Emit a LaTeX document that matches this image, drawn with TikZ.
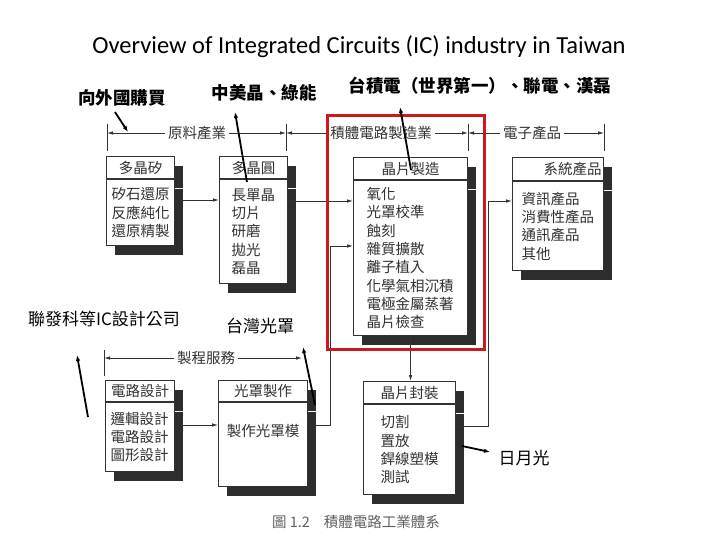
\documentclass[tikz,border=0pt]{standalone}
\usepackage{fontspec}
\setmainfont{Noto Sans CJK TC}
\newfontfamily\titlefont{Carlito}
\usepackage{xcolor}
\usepackage{tikz}
\usetikzlibrary{arrows.meta,shadows}
\definecolor{InkGray}{RGB}{50,50,50}
\definecolor{ShadowGray}{RGB}{45,45,45}
\definecolor{FrameRed}{RGB}{205,25,30}
\definecolor{CaptionGray}{RGB}{95,95,95}

\begin{document}
\begin{tikzpicture}[x=1pt,y=-1pt,>=Latex,
  panel/.style={draw=InkGray,line width=1.1pt,fill=white,anchor=north west,inner sep=0pt,
    text=InkGray,font=\fontsize{14.5}{18.3}\selectfont,
    general shadow={fill=ShadowGray,shadow xshift=8pt,shadow yshift=-9pt}},
  band/.style={text=InkGray,inner sep=3pt,font=\fontsize{14.5}{17}\selectfont},
  bandline/.style={InkGray,line width=0.8pt,-{Latex[length=6pt,width=3.5pt]}},
  tick/.style={InkGray,line width=0.8pt},
  flow/.style={InkGray,line width=0.8pt,-{Latex[length=6pt,width=3.5pt]}},
  note/.style={font=\bfseries\fontsize{17.5}{20}\selectfont},
  plainnote/.style={font=\fontsize{17}{20}\selectfont},
  pointer/.style={line width=1.8pt,-{Latex[length=6pt,width=4.5pt]}}]
  \useasboundingbox (0,0) rectangle (720,540);

  \node[font=\titlefont\fontsize{24.5}{28}\selectfont] (title) at (359,47)
    {Overview of Integrated Circuits (IC) industry in Taiwan};

  % stage bands
  \coordinate (k1) at (107,133);
  \coordinate (k2) at (286,133);
  \coordinate (k3) at (468,133);
  \coordinate (k4) at (604,133);
  \coordinate (k5) at (104,358);
  \coordinate (k6) at (302,358);
  \node[band] (s1) at (197,133) {原料產業};
  \node[band] (s2) at (381,133) {積體電路製造業};
  \node[band] (s3) at (532,133) {電子產品};
  \node[band] (s4) at (206,358) {製程服務};
  \foreach \k in {k1,k2,k3,k4}
    \draw[tick] (\k) ++(0,-9) -- ++(0,27);
  \draw[tick] (k5) ++(0,-8) -- ++(0,26);
  \draw[bandline] (s1.west) -- (k1);
  \draw[bandline] (s1.east) -- (k2);
  \draw[bandline] (s2.west) -- (k2);
  \draw[bandline] (s2.east) -- (k3);
  \draw[bandline] (s3.west) -- (k3);
  \draw[bandline] (s3.east) -- (k4);
  \draw[bandline] (s4.west) -- (k5);
  \draw[bandline] (s4.east) -- (k6);

  % boxes
  \node[panel,minimum width=68pt,minimum height=22pt] (b1h) at (106,156) {多晶矽};
  \node[panel,minimum width=68pt,minimum height=66pt,text width=58pt,align=left] (b1b)
    at (b1h.south west) {矽石還原\\反應純化\\還原精製};
  \node[panel,minimum width=68pt,minimum height=22pt] (b2h) at (219,156) {多晶圓};
  \node[panel,minimum width=68pt,minimum height=104pt,text width=44pt,align=left] (b2b)
    at (b2h.south west) {長單晶\\切片\\研磨\\拋光\\磊晶};
  \node[panel,minimum width=114pt,minimum height=22pt] (b3h) at (353,157) {晶片製造};
  \node[panel,minimum width=114pt,minimum height=155pt,text width=88pt,align=left] (b3b)
    at (b3h.south west) {氧化\\光罩校準\\蝕刻\\雜質擴散\\離子植入\\化學氣相沉積\\電極金屬蒸著\\晶片檢查};
  \node[panel,minimum width=91pt,minimum height=23pt,text width=87pt,align=right] (b4h) at (512,157) {系統產品};
  \node[panel,minimum width=91pt,minimum height=89pt,text width=73pt,align=left] (b4b)
    at (b4h.south west) {資訊產品\\消費性產品\\通訊產品\\其他};
  \node[panel,minimum width=69pt,minimum height=21pt] (b5h) at (105,380) {電路設計};
  \node[panel,minimum width=69pt,minimum height=69pt,text width=59pt,align=left] (b5b)
    at (b5h.south west) {邏輯設計\\電路設計\\圖形設計};
  \node[panel,minimum width=89pt,minimum height=21pt] (b6h) at (218,380) {光罩製作};
  \node[panel,minimum width=89pt,minimum height=84pt,align=center] (b6b)
    at (b6h.south west) {製作光罩模\\[10pt]};
  \node[panel,minimum width=92pt,minimum height=22pt] (b7h) at (363,381) {晶片封裝};
  \node[panel,minimum width=92pt,minimum height=90pt,text width=58pt,align=left] (b7b)
    at (b7h.south west) {切割\\置放\\銲線塑模\\測試};

  % flow between stages
  \draw[flow] (b1b.east |- 0,200) -- (b2b.west |- 0,200);
  \draw[flow] (b2b.east |- 0,201) -- (b3b.west |- 0,201);
  \draw[flow] (b5b.east |- 0,425) -- (b6b.west |- 0,425);
  \draw[flow] (b6b.east |- 0,425) -- (330,425) |- (b3b.west |- 0,246);
  \draw[flow] (b3b.south) -- (b3b.south |- b7h.north);
  \draw[flow] (b7b.east |- 0,426) -- (488,426) |- (b4b.west |- 0,201);

  % highlight
  \draw[FrameRed,line width=3pt] (327,116) rectangle (484,349);

  % companies
  \node[note] (n1) at (122,98) {向外國購買};
  \node[note] (n2) at (264,93) {中美晶、綠能};
  \node[note] (n3) at (480,86) {台積電（世界第一）、聯電、漢磊};
  \node[plainnote] (n4) at (104,319) {聯發科等IC設計公司};
  \node[plainnote] (n5) at (260,326) {台灣光罩};
  \node[plainnote] (n6) at (524,458) {日月光};
  \coordinate (p1) at (115,112); \coordinate (q1) at (128,132);
  \coordinate (p2) at (247,182); \coordinate (q2) at (235,112);
  \coordinate (p3) at (411,170); \coordinate (q3) at (400,107);
  \coordinate (p4) at (88,417);  \coordinate (q4) at (77,355);
  \coordinate (p5) at (315,405); \coordinate (q5) at (303,347);
  \coordinate (p6) at (462,446); \coordinate (q6) at (490,452);
  \foreach \i in {1,...,6}
    \draw[pointer] (p\i) -- (q\i);

  \node[text=CaptionGray,font=\fontsize{14.5}{17}\selectfont] (cap) at (356,522)
    {圖 1.2\hspace{14pt}積體電路工業體系};
\end{tikzpicture}
\end{document}
